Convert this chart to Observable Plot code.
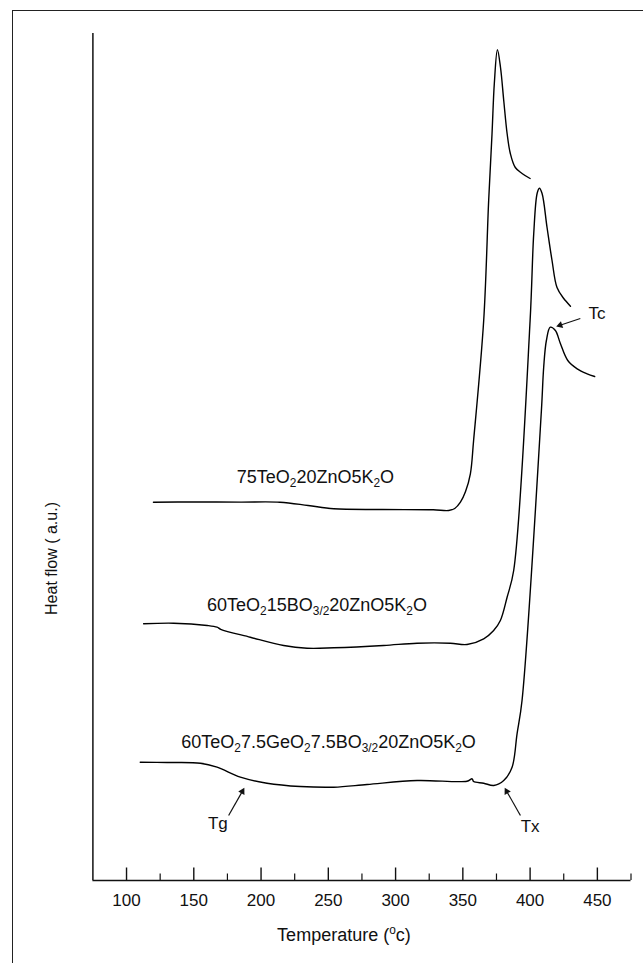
<!DOCTYPE html>
<html>
<head>
<meta charset="utf-8">
<script src="https://cdn.jsdelivr.net/npm/d3@7"></script>
<script src="https://cdn.jsdelivr.net/npm/@observablehq/plot@0.6"></script>
<style>
  html, body { margin: 0; padding: 0; background: #fff; }
  body { width: 643px; height: 963px; overflow: hidden; position: relative;
         font-family: "Liberation Sans", Arial, sans-serif; }
  #frame { position: absolute; left: 12px; top: 10px; width: 800px; height: 1100px;
           border-left: 1.5px solid #222; border-top: 1.5px solid #222; box-sizing: border-box; }
  #chart { position: absolute; left: 0; top: 0; }
</style>
</head>
<body>
<div id="frame"></div>
<div id="chart"></div>
<script>
// DSC traces: temperature (°C) and heat flow (arbitrary units, offset per glass)
const tempA = [120, 150, 185, 214, 235, 254, 290, 328, 339.5, 344, 348.2, 352, 355.6, 358, 365.5, 369.2, 371.7, 373.4, 375.7, 378, 380.4, 382.9, 385.3, 389, 394, 400];
const flowA = [37.83, 37.85, 37.84, 37.83, 37.5, 37.17, 37.1, 37.07, 37.0, 37.2, 37.83, 38.9, 40.67, 44.0, 56.0, 68.0, 74.7, 79.7, 83.07, 81.3, 78.0, 74.7, 72.7, 71.3, 70.7, 70.2];

const tempB = [112.7, 135, 160, 167.3, 170, 192, 216.8, 234.2, 254, 291.1, 316, 340.7, 353.1, 365.5, 372.9, 377.9, 382.9, 387.8, 400, 402.7, 405.2, 406.9, 408.9, 412.6, 416.3, 420, 425, 430];
const flowB = [25.67, 25.73, 25.5, 25.33, 25.12, 24.33, 23.5, 23.23, 23.27, 23.5, 23.73, 23.73, 23.6, 24.17, 25.0, 26.0, 28.33, 31.0, 56.0, 64.7, 68.7, 69.23, 68.7, 65.3, 62.0, 59.3, 58.2, 57.43];

const tempC = [110.2, 130.1, 154.9, 167.3, 184.6, 204.4, 229.2, 254, 278.8, 316, 353.1, 356.9, 358, 365.5, 373, 380.4, 386.6, 390.3, 394, 408.4, 410.1, 412.1, 415, 418.8, 422.5, 428, 435, 442.4, 448];
const flowC = [11.83, 11.8, 11.73, 11.33, 10.33, 9.73, 9.4, 9.33, 9.6, 10.0, 9.93, 10.17, 9.9, 9.73, 9.5, 10.0, 11.33, 14.67, 18.0, 47.0, 51.33, 54.0, 55.33, 55.0, 53.7, 52.0, 51.17, 50.67, 50.4];

// Composition labels (_{...} marks a subscript) and where each sits
const seriesNames = ["75TeO_{2}20ZnO5K_{2}O", "60TeO_{2}15BO_{3/2}20ZnO5K_{2}O", "60TeO_{2}7.5GeO_{2}7.5BO_{3/2}20ZnO5K_{2}O"];
const labelTemp = [240.4, 241.6, 250.2];
const labelFlow = [40.35, 27.5, 13.83];

// Characteristic temperature markers: arrow tail -> head, and text position
const markerNames = ["Tg", "Tx", "Tc"];
const arrowFrom = [[175.9, 6.5], [392.8, 6.5], [437.3, 56.2]];
const arrowTo = [[187.6, 9.27], [381.1, 9.27], [419.4, 55.4]];
const markerText = [[167.9, 5.7], [400, 5.4], [449.8, 56.67]];

// Axis
const majorTicks = [100, 150, 200, 250, 300, 350, 400, 450];
const minorTicks = [125, 175, 225, 275, 325, 375, 425, 475];
const xDomain = [75, 475];
const yDomain = [0, 84.7];
const xTitle = "Temperature (^{o}c)";
const yTitle = "Heat flow ( a.u.)";
const yTitleAt = 32.2;

const W = 643, H = 963;
const M = {top: 33, right: 12.5, bottom: 83, left: 92.4};
const kx = (W - M.left - M.right) / (xDomain[1] - xDomain[0]);
const ky = (H - M.top - M.bottom) / (yDomain[1] - yDomain[0]);

const traces = [[tempA, flowA], [tempB, flowB], [tempC, flowC]];
const rows = traces.flatMap(([ts, fs], k) => ts.map((t, i) => ({series: seriesNames[k], t, v: fs[i]})));
const labels = seriesNames.map((name, i) => ({name, t: labelTemp[i], v: labelFlow[i]}));

const headR = 3.4;
const apex = Math.sqrt(Math.PI * headR * headR) * 0.6824;
const arrows = markerNames.map((name, i) => {
  const [x1, y1] = arrowFrom[i], [x2, y2] = arrowTo[i];
  const px = (x2 - x1) * kx, py = -(y2 - y1) * ky;
  const len = Math.hypot(px, py), ux = px / len, uy = py / len;
  const hx = x2 - ux * apex / kx, hy = y2 + uy * apex / ky;
  return {name, x1, y1, hx, hy, angle: Math.atan2(ux, -uy) * 180 / Math.PI,
          tx: markerText[i][0], ty: markerText[i][1]};
});

const chart = Plot.plot({
  width: W, height: H,
  marginTop: M.top, marginRight: M.right, marginBottom: M.bottom, marginLeft: M.left,
  style: {fontFamily: '"Liberation Sans", Arial, sans-serif', fontSize: "17px", color: "#111", background: "transparent", overflow: "visible"},
  x: {domain: xDomain},
  y: {domain: yDomain, axis: null},
  marks: [
    Plot.axisX({ticks: majorTicks, tickSize: 0, tickPadding: 13, label: null, tickFormat: d => String(d), fontSize: 17}),
    Plot.ruleY([0], {stroke: "#111", strokeWidth: 1.5}),
    Plot.ruleX([xDomain[0]], {stroke: "#111", strokeWidth: 1.5}),
    Plot.ruleX(majorTicks, {y1: 0, y2: 12.5 / ky, stroke: "#111", strokeWidth: 1.4}),
    Plot.ruleX(minorTicks, {y1: 0, y2: 6.5 / ky, stroke: "#111", strokeWidth: 1.2}),
    Plot.line(rows, {x: "t", y: "v", z: "series", stroke: "#000", strokeWidth: 1.4, curve: "catmull-rom"}),
    Plot.text(labels, {x: "t", y: "v", text: "name", fontSize: 18, fill: "#111"}),
    Plot.link(arrows, {x1: "x1", y1: "y1", x2: "hx", y2: "hy", stroke: "#111", strokeWidth: 1.2}),
    Plot.dot(arrows, {x: "hx", y: "hy", symbol: "triangle2", r: headR, rotate: "angle", fill: "#111", stroke: "none"}),
    Plot.text(arrows, {x: "tx", y: "ty", text: "name", fontSize: 17, fill: "#111"}),
    Plot.text([xTitle], {text: d => d, frameAnchor: "bottom", dx: -18, dy: 60, fontSize: 18, fill: "#111"}),
    Plot.text([yTitle], {text: d => d, x: xDomain[0], y: () => yTitleAt, rotate: -90, dx: -41, fontSize: 16, fill: "#111"})
  ]
});

// Turn _{..} / ^{..} runs into real subscript / superscript tspans
d3.select(chart).selectAll("text").each(function() {
  const src = this.textContent;
  if (!/[_^]\{/.test(src)) return;
  const size = parseFloat(getComputedStyle(this).fontSize) || 17;
  this.textContent = "";
  const re = /([_^])\{([^}]*)\}|([^_^]+)/g;
  let m;
  while ((m = re.exec(src))) {
    const t = document.createElementNS("http://www.w3.org/2000/svg", "tspan");
    if (m[3]) {
      t.textContent = m[3];
    } else {
      t.textContent = m[2];
      t.setAttribute("font-size", (size * 0.7).toFixed(1));
      t.setAttribute("baseline-shift", (m[1] === "_" ? -0.22 : 0.42) * size + "px");
    }
    this.appendChild(t);
  }
});

document.getElementById("chart").appendChild(chart);
</script>
</body>
</html>
